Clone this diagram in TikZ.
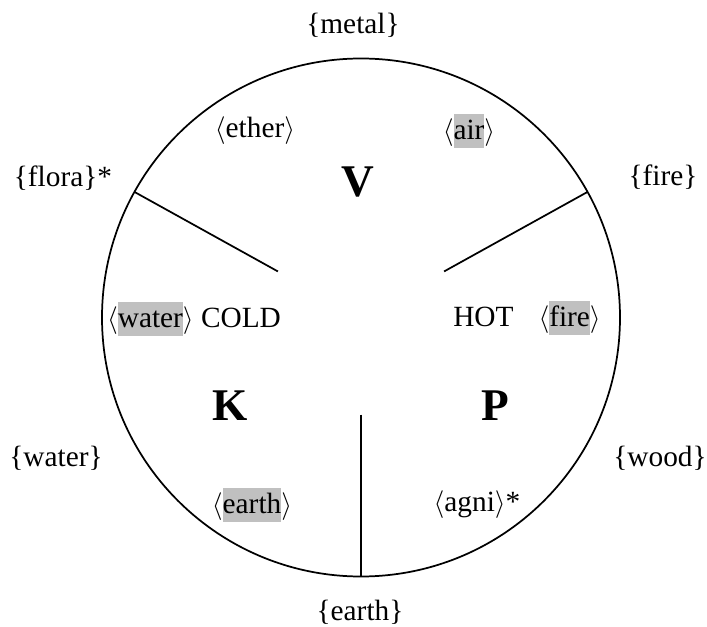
\documentclass[tikz,border=0pt]{standalone}
\usepackage{fontspec}
\setmainfont{Liberation Serif}
\usepackage{xcolor}
\usetikzlibrary{calc}
\definecolor{hlgray}{HTML}{C0C0C0}
\newcommand{\hlw}[1]{{\setlength\fboxsep{0pt}\colorbox{hlgray}{\rule[-0.27em]{0pt}{1.15em}#1}}}
\newcommand{\la}{$\langle$}
\newcommand{\ra}{$\rangle$}
\begin{document}
\begin{tikzpicture}[x=0.75pt,y=-0.75pt,
  lbl/.style={font=\fontsize{22}{26}\selectfont, inner sep=0pt},
  big/.style={font=\fontsize{34}{38}\selectfont\bfseries, inner sep=0pt},
  ring/.style={circle, draw, line width=1.3pt, minimum size=388.5pt, inner sep=0pt, outer sep=0pt},
  spoke/.style={line width=1.3pt}]
\useasboundingbox (0,0) rectangle (707,627);
\node[ring] (c) at (361,317.5) {};
% spokes
\coordinate (i1) at ($(c.center)+(151:71.25pt)$);
\coordinate (i2) at ($(c.center)+(29:71.25pt)$);
\coordinate (i3) at ($(c.center)+(270:72.75pt)$);
\draw[spoke] (i1) -- (c.151);
\draw[spoke] (i2) -- (c.29);
\draw[spoke] (i3) -- (c.270);
% outer labels
\node[lbl] (metal) at (353,25) {\{metal\}};
\node[lbl] (flora) at (63,178) {\{flora\}*};
\node[lbl] (firo) at (663,177) {\{fire\}};
\node[lbl] (wato) at (56,458) {\{water\}};
\node[lbl] (wood) at (660,458) {\{wood\}};
\node[lbl] (eartho) at (360,612) {\{earth\}};
% inner labels
\node[lbl] (ether) at (255,131) {\la ether\ra};
\node[lbl] (air) at (469,131) {\la\hlw{air}\ra};
\node[lbl] (cold) at (194,319) {\la\hlw{water}\ra{} COLD};
\node[lbl] (hot) at (527,318) {HOT\hspace{0.85em}\la\hlw{fire}\ra};
\node[lbl] (earthi) at (252,505) {\la\hlw{earth}\ra};
\node[lbl] (agni) at (477,505) {\la agni\ra*};
% doshas
\node[big] (V) at (358,182) {V};
\node[big] (K) at (230,406) {K};
\node[big] (P) at (495,406) {P};
\end{tikzpicture}
\end{document}
